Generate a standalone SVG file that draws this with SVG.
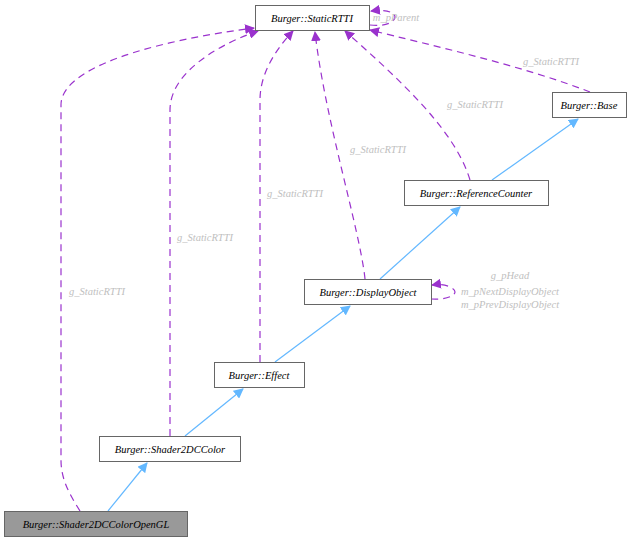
<svg xmlns="http://www.w3.org/2000/svg" width="641" height="543" viewBox="0 0 641 543">
<style>
text{font-family:"Liberation Serif","DejaVu Serif",serif;font-style:italic;font-size:10.5px}
.n rect{fill:#fff;stroke:#666;stroke-width:1}
.n text{fill:#000;text-anchor:middle}
.d{fill:none;stroke:#9a32cd;stroke-dasharray:7,5;stroke-width:1.2}
.b{fill:none;stroke:#63b8ff;stroke-width:1.2}
.l{fill:#c0c0c0;text-anchor:middle}
</style>
<defs>
<marker id="mp" markerWidth="10" markerHeight="10" refX="9" refY="5" orient="auto" markerUnits="userSpaceOnUse"><path d="M0,0 L10,5 L0,10 z" fill="#9a32cd"/></marker>
<marker id="mb" markerWidth="10" markerHeight="10" refX="9" refY="5" orient="auto" markerUnits="userSpaceOnUse"><path d="M0,0 L10,5 L0,10 z" fill="#63b8ff"/></marker>
</defs>
<rect width="641" height="543" fill="#fff"/>
<g id="connectors">
<path class="d" marker-end="url(#mp)" d="M80,511 C70,495 61,480 61,460 L61,105 C61,60 190,36 254,28"/>
<path class="d" marker-end="url(#mp)" d="M170,436 L170,110 C170,70 225,42 258,31"/>
<path class="d" marker-end="url(#mp)" d="M260,362 L260,100 C260,70 280,45 293,31"/>
<path class="d" marker-end="url(#mp)" d="M365,279 C360,230 325,120 315,32"/>
<path class="d" marker-end="url(#mp)" d="M470,180 C455,130 400,80 345,31"/>
<path class="d" marker-end="url(#mp)" d="M590,92 C520,65 430,45 370,30"/>
<path class="d" marker-end="url(#mp)" d="M370,25 C385,27 395,22 395,17 C395,12 385,9 371,11"/>
<path class="d" marker-end="url(#mp)" d="M431,299 C445,300 455,296 455,292 C455,288 445,283 432,285"/>
<path class="b" marker-end="url(#mb)" d="M108,511 L147,463"/>
<path class="b" marker-end="url(#mb)" d="M185,436 L243,389"/>
<path class="b" marker-end="url(#mb)" d="M275,362 L350,306"/>
<path class="b" marker-end="url(#mb)" d="M380,279 L460,207"/>
<path class="b" marker-end="url(#mb)" d="M492,180 L578,119"/>
<text class="l" x="396" y="21">m_pParent</text>
<text class="l" x="551" y="65">g_StaticRTTI</text>
<text class="l" x="475" y="108">g_StaticRTTI</text>
<text class="l" x="378" y="153">g_StaticRTTI</text>
<text class="l" x="295" y="197">g_StaticRTTI</text>
<text class="l" x="205" y="241">g_StaticRTTI</text>
<text class="l" x="97" y="295">g_StaticRTTI</text>
<text class="l" x="510" y="279">g_pHead</text>
<text class="l" x="510" y="295">m_pNextDisplayObject</text>
<text class="l" x="510" y="308">m_pPrevDisplayObject</text>
</g>
<g id="StaticRTTI" class="n"><rect x="255.5" y="5.5" width="114" height="25"/><text x="312" y="22">Burger::StaticRTTI</text></g>
<g id="Base" class="n"><rect x="552.5" y="92.5" width="74" height="25"/><text x="589" y="109">Burger::Base</text></g>
<g id="ReferenceCounter" class="n"><rect x="404.5" y="180.5" width="144" height="25"/><text x="476" y="197">Burger::ReferenceCounter</text></g>
<g id="DisplayObject" class="n"><rect x="304.5" y="279.5" width="127" height="25"/><text x="368" y="296">Burger::DisplayObject</text></g>
<g id="Effect" class="n"><rect x="214.5" y="362.5" width="90" height="25"/><text x="259" y="379">Burger::Effect</text></g>
<g id="Shader2DCColor" class="n"><rect x="99.5" y="436.5" width="141" height="25"/><text x="170" y="453">Burger::Shader2DCColor</text></g>
<g id="Shader2DCColorOpenGL" class="n"><rect x="4.5" y="511.5" width="183" height="25" style="fill:#999"/><text x="96" y="528">Burger::Shader2DCColorOpenGL</text></g>
</svg>
